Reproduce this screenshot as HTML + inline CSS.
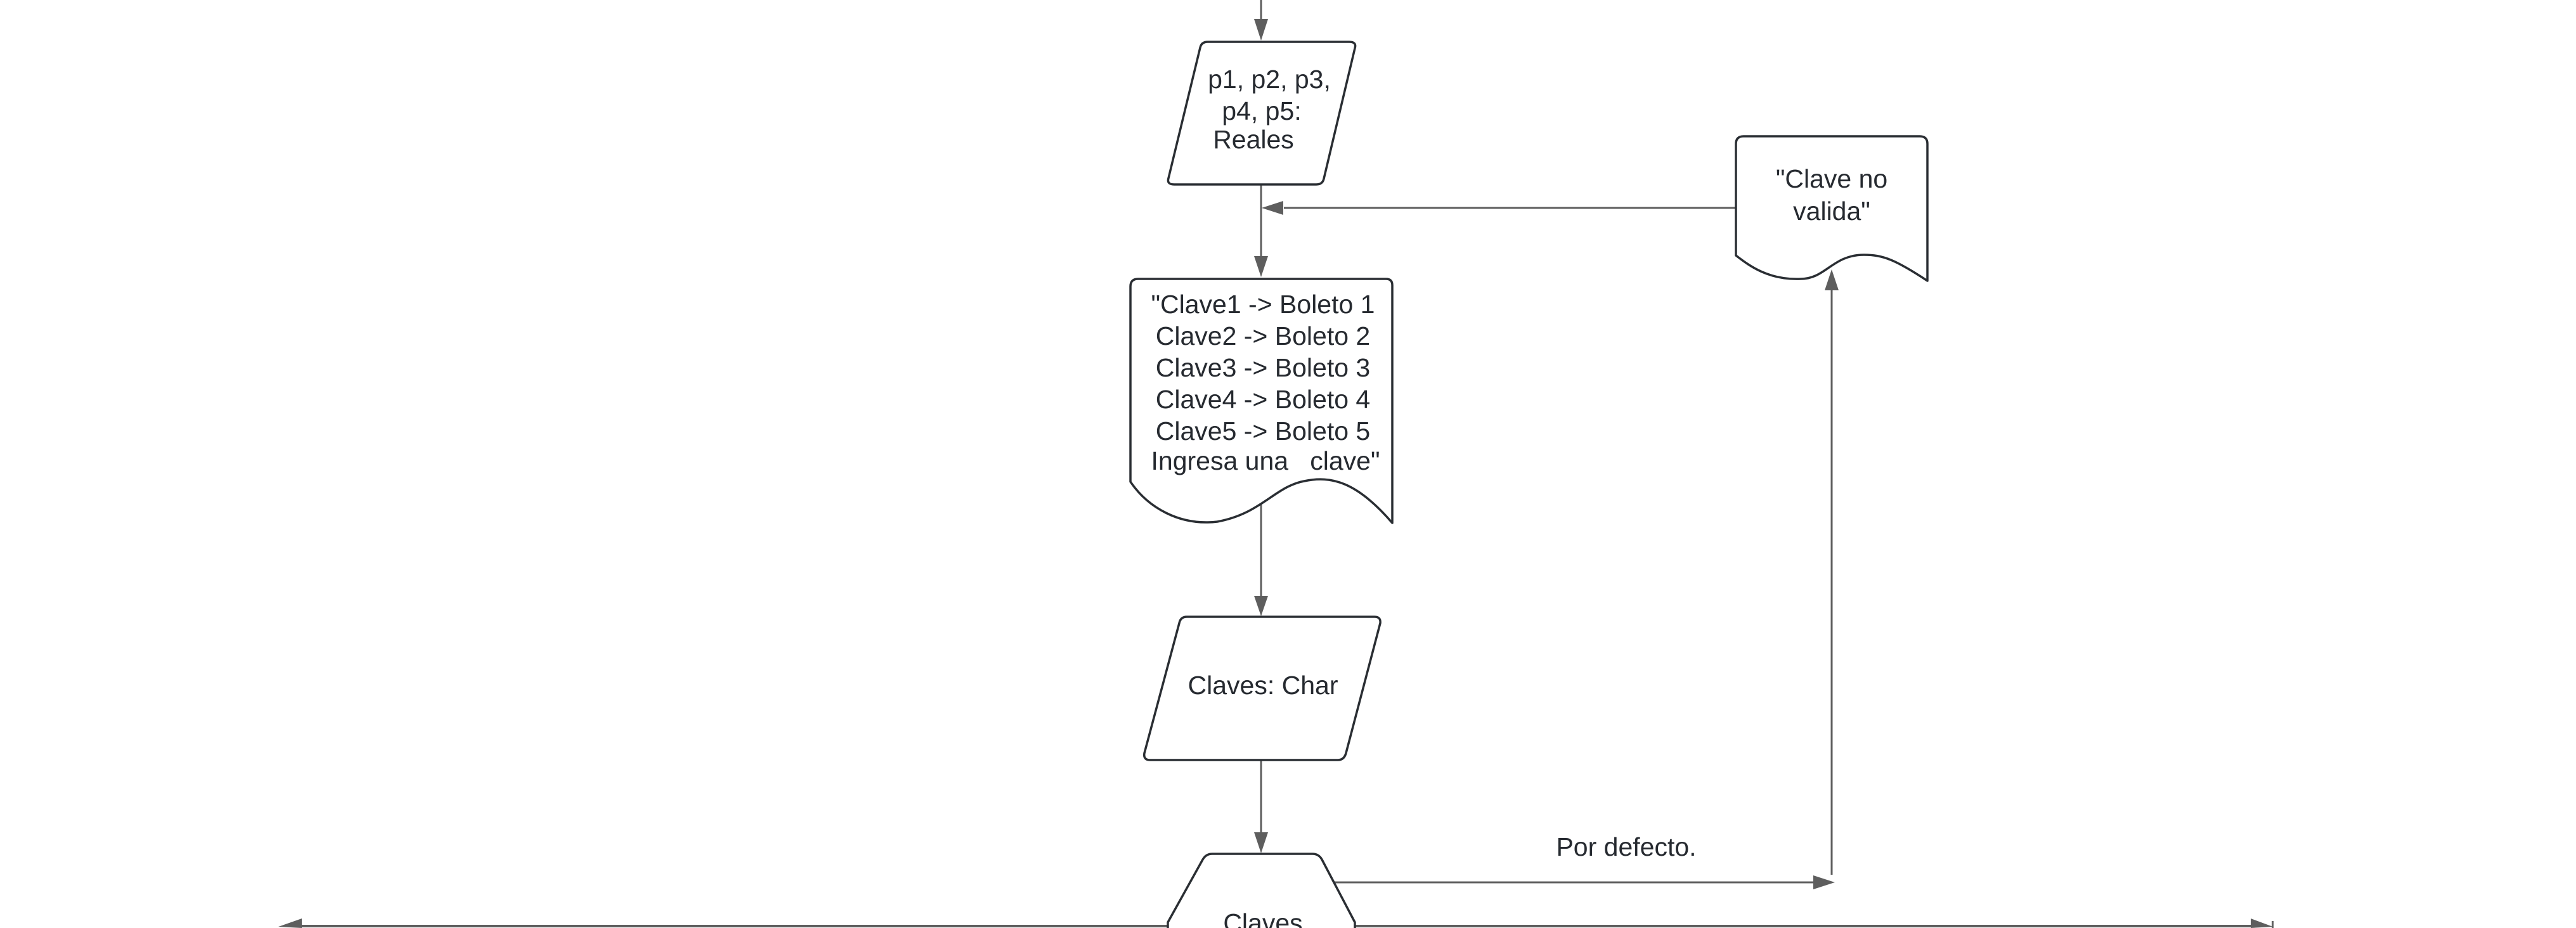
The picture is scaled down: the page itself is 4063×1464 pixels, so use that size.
<!DOCTYPE html>
<html><head><meta charset="utf-8"><style>
html,body{margin:0;padding:0;background:#fff;}
svg{display:block;}
text{font-family:"Liberation Sans",Arial,sans-serif;font-size:41px;fill:#262a30;}
</style></head><body>
<svg width="4063" height="1464" viewBox="0 0 4063 1464" xmlns="http://www.w3.org/2000/svg">
<g stroke="#5e5e5e" stroke-width="3" fill="none">
  <line x1="1989" y1="0" x2="1989" y2="36"/>
  <line x1="1989" y1="291" x2="1989" y2="410"/>
  <line x1="2738" y1="328" x2="2025" y2="328"/>
  <line x1="1989" y1="792" x2="1989" y2="945"/>
  <line x1="1989" y1="1199" x2="1989" y2="1318"/>
  <line x1="2105" y1="1392" x2="2862" y2="1392"/>
  <line x1="2889" y1="1380" x2="2889" y2="456"/>
  <line x1="1842" y1="1461" x2="472" y2="1461" stroke-width="4"/>
  <line x1="2137" y1="1461" x2="3552" y2="1461" stroke-width="4"/>
</g>
<g fill="#5e5e5e">
  <polygon points="1978,30 2000,30 1989,64"/>
  <polygon points="1978,404 2000,404 1989,437"/>
  <polygon points="1978,940 2000,940 1989,972"/>
  <polygon points="1978,1313 2000,1313 1989,1346"/>
  <polygon points="1990,328 2024,317 2024,339"/>
  <polygon points="2860,1381 2860,1403 2894,1392"/>
  <polygon points="2878,458 2900,458 2889,425"/>
  <polygon points="439,1462 476,1449 476,1464"/>
  <polygon points="3585,1462 3550,1449 3550,1464"/>
  <rect x="3583" y="1453" width="3" height="11"/>
</g>
<g stroke="#2a2e33" stroke-width="3.5" fill="#fff" stroke-linejoin="round">
  <path d="M1905,66 L2128,66 Q2140,66 2137,76 L2088,282 Q2086,291 2076,291 L1852,291 Q1840,291 1843,281 L1893,75 Q1895,66 1905,66 Z"/>
  <path d="M1795,440 L2186,440 Q2196,440 2196,450 L2196,825 C2140,760 2100,750 2057,759 C2010,768 1990,810 1920,823 C1860,830 1810,800 1783,760 L1783,452 Q1783,440 1795,440 Z"/>
  <path d="M2750,215 L3028,215 Q3040,215 3040,227 L3040,443 C2990,410 2970,402 2940,402 C2890,402 2880,440 2840,440 C2790,442 2760,420 2738,403 L2738,227 Q2738,215 2750,215 Z"/>
  <path d="M1872,973 L2168,973 Q2178,973 2177,983 L2123,1188 Q2120,1199 2110,1199 L1814,1199 Q1803,1199 1805,1188 L1860,983 Q1862,973 1872,973 Z"/>
  <path d="M1912,1347 L2070,1347 Q2080,1347 2085,1356 L2137,1455 L2137,1470 L1842,1470 L1842,1455 L1897,1356 Q1902,1347 1912,1347 Z"/>
</g>
<g text-anchor="middle">
  <text x="2002" y="139">p1, p2, p3,</text>
  <text x="1990" y="189">p4, p5:</text>
  <text x="1977" y="234">Reales</text>
  <text x="2889" y="296">"Clave no</text>
  <text x="2889" y="347">valida"</text>
  <text x="1992" y="494">"Clave1 -&gt; Boleto 1</text>
  <text x="1992" y="544">Clave2 -&gt; Boleto 2</text>
  <text x="1992" y="594">Clave3 -&gt; Boleto 3</text>
  <text x="1992" y="644">Clave4 -&gt; Boleto 4</text>
  <text x="1992" y="694">Clave5 -&gt; Boleto 5</text>
  <text x="1996" y="741" xml:space="preserve">Ingresa una   clave"</text>
  <text x="1992" y="1095">Claves: Char</text>
  <text x="2565" y="1350">Por defecto.</text>
  <text x="1992" y="1470">Claves</text>
</g>
</svg>
</body></html>
